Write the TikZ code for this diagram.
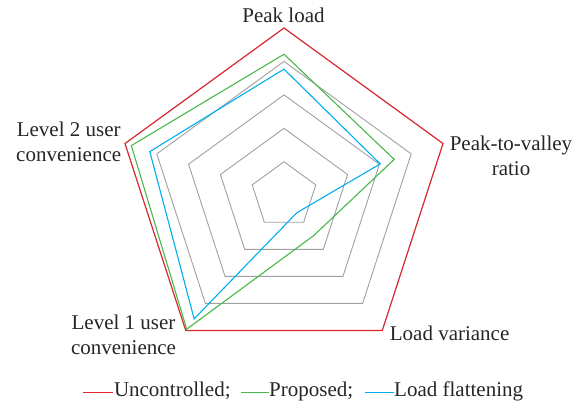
\documentclass[tikz,border=0pt]{standalone}
\usepackage{fontspec}
\setmainfont{Liberation Serif}
\newfontfamily\labelfont{Liberation Serif}
\usetikzlibrary{calc}
\definecolor{ucol}{RGB}{226,38,48}
\definecolor{pcol}{RGB}{72,184,72}
\definecolor{lcol}{RGB}{0,174,239}
\definecolor{gcol}{RGB}{160,160,160}
\definecolor{tcol}{RGB}{38,38,38}
\tikzset{
  gridring/.style={draw=gcol, line width=0.9pt, line join=miter},
  series/.style={line width=1.1pt, line join=miter},
  keyline/.style={line width=1.2pt},
  axislabel/.style={font={\labelfont\fontsize{21}{25}\selectfont}, text=tcol, inner sep=0pt, align=center},
  legendtext/.style={font={\labelfont\fontsize{21}{25}\selectfont}, text=tcol, inner sep=0pt, anchor=base west},
}
% radar: vertices at 90, 18, -54, -126, 162 degrees; full scale 167.2pt
\newcommand{\radar}[5]{(90:#1*167.2) -- (18:#2*167.2) -- (-54:#3*167.2) -- (-126:#4*167.2) -- (162:#5*167.2) -- cycle}
\begin{document}
\begin{tikzpicture}[x=1pt,y=1pt]
\useasboundingbox (0,0) rectangle (582,407);
\coordinate (O) at (284,211.8);
\begin{scope}[shift={(O)}]
  % grid rings
  \foreach \f in {0.2,0.4,0.6,0.8,1.0}
    \draw[gridring] \radar{\f}{\f}{\f}{\f}{\f};
  % series
  \draw[series, draw=ucol] \radar{1}{1}{1}{1}{1};
  \draw[series, draw=pcol] \radar{0.843}{0.693}{0.30}{0.99}{0.96};
  \draw[series, draw=lcol] \radar{0.754}{0.605}{0.13}{0.914}{0.844};
\end{scope}
% axis labels (base anchor sits on the last line)
\node[axislabel, anchor=base] (peak) at (283.5,384) {Peak load};
\node[axislabel, anchor=base] (ptv) at (511,231) {Peak-to-valley\\ratio};
\node[axislabel, anchor=base] (lv2) at (68.7,245.3) {Level 2 user\\convenience};
\node[axislabel, anchor=base] (lv1) at (123.5,52) {Level 1 user\\convenience};
\node[axislabel, anchor=base] (lvar) at (449.6,66.3) {Load variance};
% legend
\coordinate (ua) at (83,14.5);
\coordinate (ub) at (113,14.5);
\draw[keyline, draw=ucol] (ua) -- (ub);
\node[legendtext] (lgu) at (113.8,10.3) {Uncontrolled;};
\coordinate (pa) at (240.5,14.5);
\coordinate (pb) at (268.5,14.5);
\draw[keyline, draw=pcol] (pa) -- (pb);
\node[legendtext] (lgp) at (269,10.3) {Proposed;};
\coordinate (la) at (365,14.5);
\coordinate (lb) at (393.5,14.5);
\draw[keyline, draw=lcol] (la) -- (lb);
\node[legendtext] (lgl) at (394,10.3) {Load flattening};
\end{tikzpicture}
\end{document}
